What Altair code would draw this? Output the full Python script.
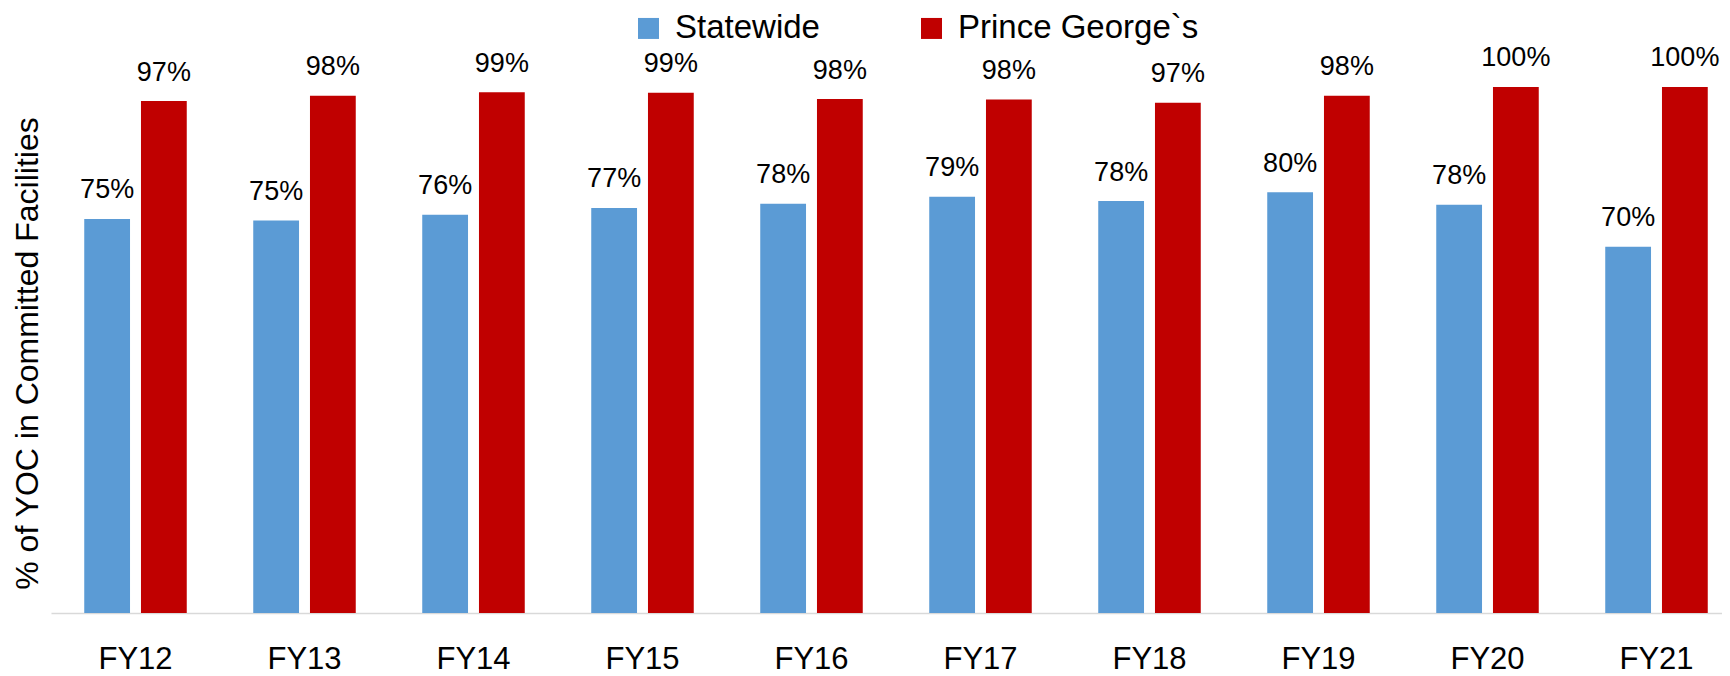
import altair as alt
import pandas as pd

categories = ["FY12", "FY13", "FY14", "FY15", "FY16", "FY17", "FY18", "FY19", "FY20", "FY21"]
statewide = [74.9, 74.6, 75.7, 77.0, 77.8, 79.1, 78.3, 80.0, 77.6, 69.6]
prince_georges = [97.3, 98.3, 99.0, 98.9, 97.7, 97.6, 97.0, 98.3, 100.0, 100.0]
series_names = ["Statewide", "Prince George`s"]
colors = ["#5B9BD5", "#C00000"]

rows = []
for i, c in enumerate(categories):
    rows.append({"year": c, "series": series_names[0], "value": statewide[i]})
    rows.append({"year": c, "series": series_names[1], "value": prince_georges[i]})
df = pd.DataFrame(rows)

FONT = "Liberation Sans"

x = alt.X(
    "year:N",
    sort=categories,
    scale=alt.Scale(range=[0, 1690], paddingInner=0, paddingOuter=0),
    axis=alt.Axis(
        title=None, labelAngle=0, labelFontSize=31, labelFont=FONT, labelColor="black",
        labelPadding=55, ticks=False, tickSize=0, domainColor="#D9D9D9", domainWidth=1.5,
        labelBaseline="alphabetic",
    ),
)
xo = alt.XOffset("series:N", sort=series_names,
                 scale=alt.Scale(paddingInner=0.193, paddingOuter=0.586))
y = alt.Y(
    "value:Q",
    scale=alt.Scale(domain=[0, 115], nice=False, zero=True),
    axis=alt.Axis(
        title="% of YOC in Committed Facilities", domain=False, ticks=False, labels=False,
        grid=False, titleFont=FONT, titleFontSize=32, titleFontWeight="normal",
        titleColor="black", titleX=-13.5, titleY=345, titleAngle=270, titleAlign="center",
        titleBaseline="alphabetic",
    ),
)
color = alt.Color(
    "series:N",
    sort=series_names,
    scale=alt.Scale(domain=series_names, range=colors),
    legend=alt.Legend(
        title=None, orient="none", legendX=581, legendY=3.7, direction="horizontal",
        symbolType="square", symbolSize=441, symbolStrokeWidth=0, labelFont=FONT,
        labelFontSize=33, labelColor="black", labelOffset=10, columnPadding=95, padding=0,
        labelLimit=0,
        labelExpr="datum.label == 'Prince George`s' ? '\u00a0\u00a0' + datum.label : datum.label",
    ),
)

base = alt.Chart(df)
bars = base.mark_bar().encode(x=x, xOffset=xo, y=y, color=color)
labels = base.transform_calculate(
    label="format(datum.value, '.0f') + '%'"
).mark_text(dy=-20.5, baseline="alphabetic", font=FONT, fontSize=27, color="black").encode(
    x=x, xOffset=xo, y=y, text="label:N"
)

chart = alt.layer(bars, labels).properties(
    width=1671,
    height=605,
    padding={"left": 43, "top": 0, "right": 0, "bottom": 63},
    autosize=alt.AutoSizeParams(type="none"),
    background="white",
).configure_view(stroke=None)

chart.save("out.html", embed_options={"renderer": "svg", "actions": False})
